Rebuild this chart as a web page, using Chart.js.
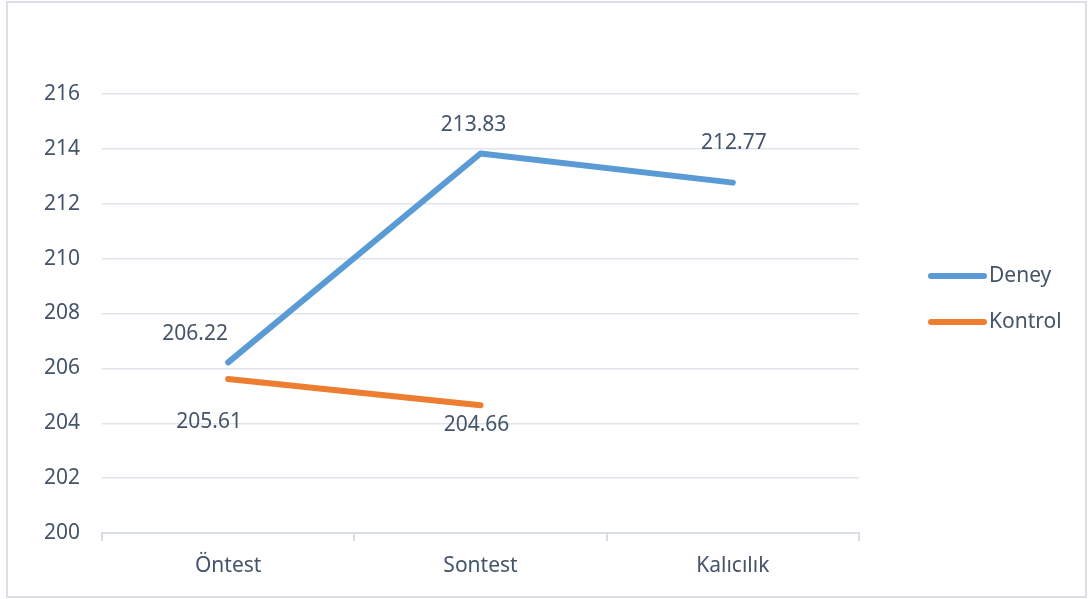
<!DOCTYPE html>
<html><head><meta charset="utf-8">
<script src="https://cdn.jsdelivr.net/npm/chart.js@4"></script>
<style>html,body{margin:0;padding:0;background:#fff;overflow:hidden}</style>
</head><body>
<canvas id="c" width="1088" height="599" style="display:block;width:1088px;height:599px"></canvas>
<script>
// ---- data ----
const categories = ['Öntest', 'Sontest', 'Kalıcılık'];
const deneyValues = [206.22, 213.83, 212.77];
const kontrolValues = [205.61, 204.66, null];
const seriesNames = ['Deney', 'Kontrol'];
const yMin = 200, yMax = 216, yStep = 2;

// ---- styling / label placement (not data) ----
const TEXT = '#44546a';
const FONT = "'Noto Sans', sans-serif";
const FS = 21;
const deneyLabelOffsets = [[-33, -28], [-7, -29], [1, -40]];
const kontrolLabelOffsets = [[-19, 43], [-4, 20]];
const colors = ['#5b9bd5', '#ed7d31'];

const framePlugin = {
  id: 'frame',
  beforeDraw(chart) {
    const ctx = chart.ctx;
    ctx.save();
    ctx.fillStyle = '#ffffff';
    ctx.fillRect(0, 0, chart.width, chart.height);
    ctx.strokeStyle = '#dcdfe5';
    ctx.lineWidth = 2;
    ctx.strokeRect(7, 2, 1079, 595);
    ctx.restore();
  }
};

const labelPlugin = {
  id: 'valueLabels',
  afterDatasetsDraw(chart) {
    const ctx = chart.ctx;
    ctx.save();
    ctx.font = FS + 'px ' + FONT;
    ctx.fillStyle = TEXT;
    ctx.textAlign = 'center';
    ctx.textBaseline = 'middle';
    const offs = [deneyLabelOffsets, kontrolLabelOffsets];
    chart.data.datasets.forEach((ds, di) => {
      const meta = chart.getDatasetMeta(di);
      ds.data.forEach((v, i) => {
        if (v === null) return;
        const p = meta.data[i];
        const o = offs[di][i];
        ctx.fillText(v.toFixed(2), p.x + o[0], p.y + o[1]);
      });
    });
    ctx.restore();
  }
};

const legendPlugin = {
  id: 'customLegend',
  afterDraw(chart) {
    const ctx = chart.ctx;
    ctx.save();
    const ys = [276, 322];
    seriesNames.forEach((n, i) => {
      ctx.strokeStyle = colors[i];
      ctx.lineWidth = 6;
      ctx.lineCap = 'round';
      ctx.beginPath();
      ctx.moveTo(931, ys[i]);
      ctx.lineTo(984, ys[i]);
      ctx.stroke();
      ctx.fillStyle = TEXT;
      ctx.font = FS + 'px ' + FONT;
      ctx.textAlign = 'left';
      ctx.textBaseline = 'middle';
      ctx.fillText(n, 989, ys[i]);
    });
    ctx.restore();
  }
};

new Chart(document.getElementById('c'), {
  type: 'line',
  data: {
    labels: categories,
    datasets: [
      { label: seriesNames[0], data: deneyValues, borderColor: colors[0], backgroundColor: colors[0],
        borderWidth: 6, pointRadius: 0, borderCapStyle: 'round', borderJoinStyle: 'round', tension: 0 },
      { label: seriesNames[1], data: kontrolValues, borderColor: colors[1], backgroundColor: colors[1],
        borderWidth: 6, pointRadius: 0, borderCapStyle: 'round', borderJoinStyle: 'round', tension: 0 }
    ]
  },
  options: {
    responsive: false,
    animation: false,
    devicePixelRatio: 1,
    layout: { padding: { top: 94, right: 229, bottom: 0, left: 0 } },
    plugins: { legend: { display: false }, tooltip: { enabled: false } },
    scales: {
      x: {
        offset: true,
        grid: { offset: true, drawOnChartArea: false, drawTicks: true, tickLength: 8, color: '#d9dde4', lineWidth: 2 },
        border: { display: true, color: '#d9dde4', width: 2 },
        ticks: { color: TEXT, font: { family: FONT, size: FS }, padding: 12, maxRotation: 0 },
        afterFit(s) { s.height = 66; }
      },
      y: {
        min: yMin, max: yMax,
        ticks: { stepSize: yStep, color: TEXT, font: { family: FONT, size: FS }, padding: 22 },
        grid: { drawTicks: false, color: '#dfe3ea', lineWidth: 1.5 },
        border: { display: false },
        afterFit(s) { s.width = 102; }
      }
    }
  },
  plugins: [framePlugin, labelPlugin, legendPlugin]
});
</script>
</body></html>
